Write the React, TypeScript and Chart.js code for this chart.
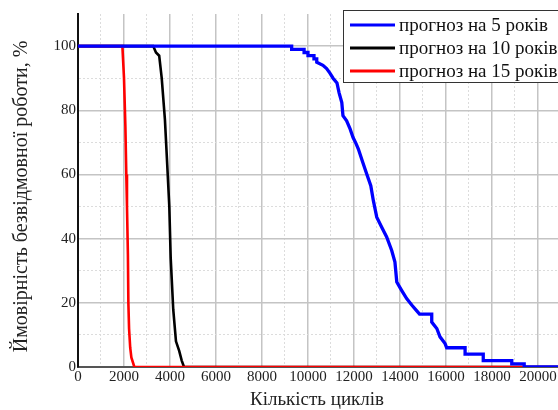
import React, { useEffect, useRef } from "react";
import { Chart, registerables } from "chart.js";

Chart.register(...registerables);

// Forecast for 5 years (blue)
const cycles5 = [0, 9290, 9290, 9830, 9830, 10000, 10000, 10260, 10260, 10380, 10380, 10650, 10810, 10960, 11090, 11260, 11350, 11470, 11520, 11680, 11830, 11960, 12090, 12190, 12380, 12550, 12730, 12840, 12990, 13200, 13420, 13640, 13780, 13860, 14070, 14290, 14510, 14730, 14850, 15380, 15380, 15600, 15740, 15960, 16030, 16830, 16830, 17620, 17620, 18860, 18860, 19400, 19400, 20870];
const prob5 = [100, 100, 99, 99, 98, 98, 97, 97, 96, 96, 95, 94, 93, 91.5, 90, 88.5, 85.5, 82.4, 78.3, 76.7, 74.2, 71.5, 69.6, 67.9, 63.8, 60.2, 56.5, 51.9, 46.7, 43.6, 40.5, 36.3, 32.7, 26.5, 23.9, 21.3, 19.3, 17.5, 16.5, 16.5, 14, 12, 9.4, 7.3, 6, 6, 4, 4, 2, 2, 1, 1, 0, 0];

// Forecast for 10 years (black)
const cycles10 = [0, 3270, 3390, 3530, 3640, 3780, 3880, 3970, 4030, 4140, 4260, 4400, 4510, 4610, 20870];
const prob10 = [100, 100, 98, 97, 90, 77, 63, 50, 34, 18, 8, 5, 2, 0, 0];

// Forecast for 15 years (red)
const cycles15 = [0, 1930, 2000, 2060, 2100, 2130, 2170, 2190, 2220, 2270, 2320, 2450, 20870];
const prob15 = [100, 100, 90, 75, 60, 50, 35, 20, 12, 6, 3, 0, 0];

const seriesLabels = ["прогноз на 5 років", "прогноз на 10 років", "прогноз на 15 років"];
const seriesColors = ["#0000ff", "#000000", "#ff0000"];
const xTitle = "Кількість циклів";
const yTitle = "Ймовірність безвідмовної роботи, %";

const X_MAX = 20870;
const X_STEP = 1000;
const Y_MAX = 110;

const FONT = "'Liberation Serif', 'Times New Roman', serif";

const toPoints = (xs: number[], ys: number[]) => xs.map((x, i) => ({ x, y: ys[i] }));

const decorPlugin = {
  id: "decor",
  afterDraw(chart: any) {
    const ctx = chart.ctx;
    const ca = chart.chartArea;
    ctx.save();
    // axis titles
    ctx.fillStyle = "#222222";
    ctx.textAlign = "center";
    ctx.textBaseline = "middle";
    ctx.font = `19px ${FONT}`;
    ctx.fillText(xTitle, (ca.left + ca.right) / 2 - 1, ca.bottom + 33);
    ctx.save();
    ctx.translate(ca.left - 56, (ca.top + ca.bottom) / 2 + 6);
    ctx.rotate(-Math.PI / 2);
    ctx.font = `20px ${FONT}`;
    ctx.fillText(yTitle, 0, 0);
    ctx.restore();

    // legend
    const left = ca.left + 265;
    const top = ca.top - 4;
    const w = 240;
    const h = 72;
    ctx.fillStyle = "#ffffff";
    ctx.fillRect(left, top, w, h);
    ctx.strokeStyle = "#333333";
    ctx.lineWidth = 1;
    ctx.strokeRect(left + 0.5, top + 0.5, w, h);
    ctx.font = `19px ${FONT}`;
    ctx.textBaseline = "middle";
    ctx.textAlign = "left";
    for (let i = 0; i < seriesLabels.length; i++) {
      const y = top + 15 + i * 23;
      ctx.strokeStyle = seriesColors[i];
      ctx.lineWidth = 3;
      ctx.beginPath();
      ctx.moveTo(left + 7, y);
      ctx.lineTo(left + 52, y);
      ctx.stroke();
      ctx.fillStyle = "#111111";
      ctx.fillText(seriesLabels[i], left + 56, y + 1);
    }
    ctx.restore();
  },
};

export default function App() {
  const ref = useRef<HTMLCanvasElement | null>(null);
  useEffect(() => {
    if (!ref.current) return;
    const chart = new Chart(ref.current, {
      type: "line",
      data: {
        datasets: [
          {
            label: seriesLabels[0],
            data: toPoints(cycles5, prob5),
            borderColor: seriesColors[0],
            borderWidth: 3.3,
            pointRadius: 0,
            order: 0,
          },
          {
            label: seriesLabels[1],
            data: toPoints(cycles10, prob10),
            borderColor: seriesColors[1],
            borderWidth: 2.6,
            pointRadius: 0,
            order: 2,
          },
          {
            label: seriesLabels[2],
            data: toPoints(cycles15, prob15),
            borderColor: seriesColors[2],
            borderWidth: 2.6,
            pointRadius: 0,
            order: 1,
          },
        ],
      },
      options: {
        responsive: false,
        animation: false,
        layout: { padding: { top: 14, right: 0, left: 0, bottom: 0 } },
        plugins: { legend: { display: false }, tooltip: { enabled: false } },
        scales: {
          x: {
            type: "linear",
            min: 0,
            max: X_MAX,
            afterBuildTicks: (s: any) => {
              const t: any[] = [];
              for (let v = 0; v <= X_MAX; v += X_STEP) t.push({ value: v });
              s.ticks = t;
            },
            afterFit: (s: any) => {
              s.height = 43;
              s.paddingLeft = 0;
              s.paddingRight = 0;
            },
            ticks: {
              autoSkip: false,
              maxRotation: 0,
              padding: 1,
              color: "#222222",
              font: { family: FONT, size: 15 },
              callback: (v: any) => (Number(v) % 2000 === 0 ? String(v) : ""),
            },
            grid: {
              drawTicks: false,
              color: (c: any) =>
                c.tick && c.tick.value % 2000 === 0 ? "#c4c4c4" : "#dcdcdc",
              lineWidth: (c: any) => (c.tick && c.tick.value % 2000 === 0 ? 1.5 : 1),
            },
            border: {
              color: "#555555",
              width: 2,
              dash: (c: any) => (c.tick && c.tick.value % 2000 !== 0 ? [2, 2] : []),
            },
          },
          y: {
            type: "linear",
            min: 0,
            max: Y_MAX,
            afterFit: (s: any) => {
              s.width = 78;
            },
            ticks: {
              stepSize: 10,
              padding: 2,
              color: "#222222",
              font: { family: FONT, size: 15 },
              callback: (v: any) => (Number(v) % 20 === 0 && Number(v) <= 100 ? String(v) : ""),
            },
            grid: {
              drawTicks: false,
              color: (c: any) =>
                c.tick && c.tick.value >= Y_MAX
                  ? "rgba(0,0,0,0)"
                  : c.tick && c.tick.value % 20 === 0
                  ? "#c4c4c4"
                  : "#dcdcdc",
              lineWidth: (c: any) => (c.tick && c.tick.value % 20 === 0 ? 1.5 : 1),
            },
            border: {
              color: "#111111",
              width: 2,
              dash: (c: any) => (c.tick && c.tick.value % 20 !== 0 ? [2, 2] : []),
            },
          },
        },
      },
      plugins: [decorPlugin],
    });
    return () => chart.destroy();
  }, []);

  return (
    <div style={{ position: "fixed", left: 0, top: 0, width: 558, height: 410, background: "#fff", overflow: "hidden" }}>
      <canvas ref={ref} width={558} height={410} style={{ display: "block" }} />
    </div>
  );
}
